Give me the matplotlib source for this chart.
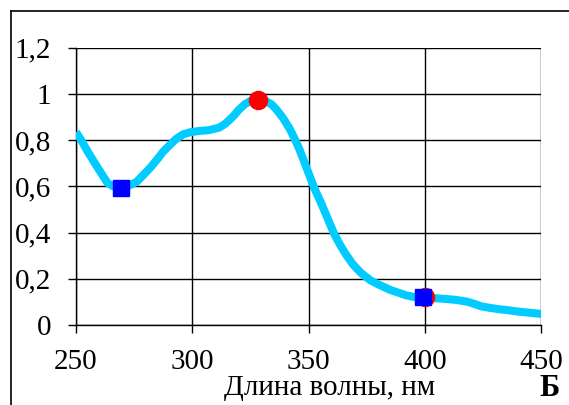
import matplotlib.pyplot as plt
from matplotlib.lines import Line2D

wavelength = [250, 252.5, 255, 257.5, 260, 263.5, 266, 269.4, 272, 276, 279, 282,
              285, 287.5, 290, 293, 296, 299, 303, 307, 311.5, 314, 316, 318,
              320, 322.5, 325, 328, 331, 334, 336, 339, 342, 344, 346, 348,
              350.4, 352.5, 355, 357, 359, 361, 363.4, 366, 369, 372.5, 376.4,
              380, 385, 388.5, 392, 396, 399, 403, 406, 409.5, 413, 418, 421,
              424, 428, 432, 435, 440, 445, 450]
absorb = [0.835, 0.795, 0.751, 0.71, 0.67, 0.615, 0.60, 0.594, 0.60, 0.619, 0.65,
          0.682, 0.718, 0.751, 0.776, 0.805, 0.825, 0.834, 0.84, 0.843, 0.854,
          0.87, 0.888, 0.908, 0.932, 0.955, 0.97, 0.978, 0.972, 0.955, 0.934,
          0.895, 0.846, 0.805, 0.76, 0.708, 0.645, 0.59, 0.535, 0.488, 0.44,
          0.393, 0.348, 0.305, 0.262, 0.225, 0.194, 0.175, 0.152, 0.14, 0.128,
          0.12, 0.118, 0.117, 0.115, 0.112, 0.109, 0.101, 0.092, 0.081, 0.074,
          0.068, 0.065, 0.058, 0.053, 0.048]

max_x = [328, 400]
max_y = [0.975, 0.12]
min_x = [269.4, 399]
min_y = [0.594, 0.12]

xticks = [250, 300, 350, 400, 450]
yticks = [0, 0.2, 0.4, 0.6, 0.8, 1.0, 1.2]
ylabels = ["0", "0,2", "0,4", "0,6", "0,8", "1", "1,2"]

plt.rcParams['font.family'] = ['Liberation Serif', 'DejaVu Serif']

fig = plt.figure(figsize=(5.69, 4.05), dpi=100)
ax = fig.add_axes([0.1336, 0.1975, 0.818, 0.6847])

ax.plot(wavelength, absorb, color="#00CCFF", lw=5.8, solid_capstyle="butt",
        solid_joinstyle="round", zorder=3)
ax.plot(max_x, max_y, "o", color="red", ms=13, zorder=4)
ax.plot(min_x, min_y, "s", color="blue", ms=11, zorder=5)

ax.set_xlim(250, 450)
ax.set_ylim(0, 1.2)
ax.set_xticks(xticks)
ax.set_yticks(yticks)
ax.set_yticklabels(ylabels)
ax.grid(True, color="black", lw=1.0, zorder=1)
ax.set_axisbelow(True)
for s in ["top", "right"]:
    ax.spines[s].set_visible(False)
for s in ["left", "bottom"]:
    ax.spines[s].set_color("black")
    ax.spines[s].set_linewidth(1.0)
ax.tick_params(axis="both", direction="out", length=6, width=1.0,
               labelsize=21, color="black")
ax.tick_params(axis="y", pad=12)
ax.tick_params(axis="x", pad=11)

fig.text(330 / 569, 1 - 395 / 405, "Длина волны, нм", ha="center",
         va="baseline", fontsize=21)
fig.text(550 / 569, 1 - 396 / 405, "Б", ha="center", va="baseline",
         fontsize=22, fontweight="bold")

# outer frame, only top and left edges fall inside the picture
fig.add_artist(Line2D([11 / 569, 1], [1 - 11 / 405, 1 - 11 / 405],
                      transform=fig.transFigure, color="black", lw=1.2))
fig.add_artist(Line2D([11 / 569, 11 / 569], [0, 1 - 11 / 405],
                      transform=fig.transFigure, color="black", lw=1.2))

fig.savefig("out.png", dpi=100)
